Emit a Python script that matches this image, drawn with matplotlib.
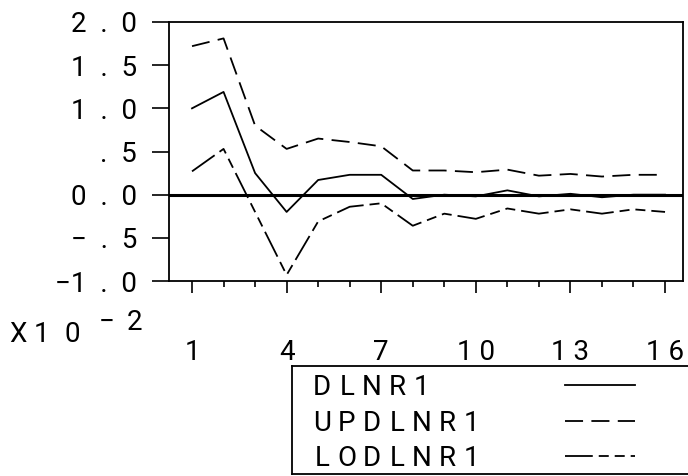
import matplotlib
matplotlib.use("Agg")
import matplotlib.pyplot as plt
import numpy as np

plt.rcParams['font.family'] = ['Roboto', 'DejaVu Sans']
plt.rcParams['lines.scale_dashes'] = False

periods = list(range(1, 17))
dlnr1 = [1.00, 1.19, 0.25, -0.20, 0.17, 0.23, 0.23, -0.05,
         0.00, -0.02, 0.05, -0.02, 0.01, -0.03, 0.00, 0.00]
updlnr1 = [1.72, 1.81, 0.80, 0.53, 0.65, 0.61, 0.56, 0.28,
           0.28, 0.26, 0.29, 0.22, 0.24, 0.21, 0.23, 0.23]
lodlnr1 = [0.27, 0.53, -0.20, -0.93, -0.31, -0.14, -0.10, -0.36,
           -0.22, -0.28, -0.16, -0.22, -0.17, -0.22, -0.17, -0.20]

yticks = [2.0, 1.5, 1.0, 0.5, 0.0, -0.5, -1.0]
ylabels = ['2  .  0', '1  .  5', '1  .  0', '.  5', '0  .  0', '\u2212  .  5', '\u22121  .  0']
xticks = [1, 4, 7, 10, 13, 16]
xlabels = ['1', '4', '7', '1 0', '1 3', '1 6']

series = [('DLNR1', dlnr1, '-'),
          ('UPDLNR1', updlnr1, (0, (13, 6))),
          ('LODLNR1', lodlnr1, (0, (20, 4.3, 7.2, 4.3, 7.2, 4.3)))]

W, H = 688, 476
FS = 20


def px(x, y):
    # pixel position from top-left -> figure fraction
    return x / W, 1 - y / H


def spaced(fig, s, x0, y, pitch):
    # plotter style lettering: one character per fixed cell
    for i, ch in enumerate(s):
        fig.text(*px(x0 + i * pitch, y), ch, fontsize=FS, ha='center', va='baseline')


fig = plt.figure(figsize=(W / 100, H / 100), dpi=100)
ax = fig.add_axes([169 / W, 1 - 281 / H, (683 - 169) / W, (281 - 22) / H])

for name, vals, ls in series:
    ax.plot(periods, vals, color='black', lw=1.3, linestyle=ls)
ax.axhline(0, color='black', lw=2.2)

ax.set_xlim(0.27, 16.57)
ax.set_ylim(-1.0, 2.0)
ax.set_yticks(yticks)
ax.set_yticklabels(ylabels, fontsize=FS)
ax.set_xticks(xticks)
ax.set_xticklabels(xlabels, fontsize=FS)
ax.set_xticks([p for p in periods if p not in xticks], minor=True)
ax.tick_params(axis='y', direction='out', length=12, width=1.2, pad=11)
ax.tick_params(axis='x', which='major', direction='out', length=8.5, width=1.2, pad=33)
ax.tick_params(axis='x', which='minor', direction='out', length=4.5, width=1.2)
for s in ax.spines.values():
    s.set_linewidth(1.3)

# scale factor label
for ch, x in zip('X10', [18, 41, 72]):
    fig.text(*px(x, 342), ch, fontsize=FS, ha='center', va='baseline')
for ch, x in zip('\u22122', [107, 134]):
    fig.text(*px(x, 330), ch, fontsize=FS, ha='center', va='baseline')

# legend box
lax = fig.add_axes([292 / W, 1 - 474 / H, 420 / W, (474 - 366) / H])
lax.set_xlim(292, 712)
lax.set_ylim(474, 366)
lax.set_xticks([])
lax.set_yticks([])
for s in lax.spines.values():
    s.set_linewidth(1.3)
rows = [385, 421, 456]
for (name, vals, ls), yy in zip(series, rows):
    spaced(fig, name, 322, yy + 10, 25)
    lax.plot([565, 635], [yy, yy], color='black', lw=1.3, linestyle=ls)

fig.savefig('out.png', dpi=100)
